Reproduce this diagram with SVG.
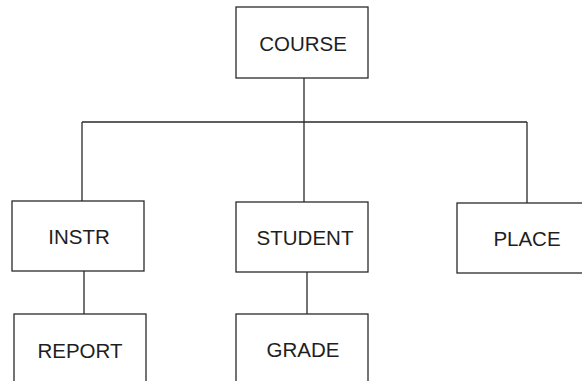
<svg xmlns="http://www.w3.org/2000/svg" width="582" height="381" viewBox="0 0 582 381">
<style>
.box{fill:#fff;stroke:#2a2a2a;stroke-width:1.3}
.lbl{font-family:"Liberation Sans",Arial,sans-serif;font-size:20.5px;fill:#1e1e1e;text-anchor:middle}
.con{stroke:#2a2a2a;stroke-width:1.3;fill:none}
</style>
<rect width="582" height="381" fill="#fff"/>
<g id="connectors">
<path class="con" d="M304 78V122M82 122H527M82 122V201M304 122V202M527 122V203M84 271V314M307 272V314"/>
</g>
<g id="course"><rect class="box" x="236" y="7" width="132" height="71"/><text class="lbl" x="303" y="51">COURSE</text></g>
<g id="instr"><rect class="box" x="12" y="201" width="132" height="70"/><text class="lbl" x="79" y="244">INSTR</text></g>
<g id="student"><rect class="box" x="236" y="202" width="132" height="70"/><text class="lbl" x="305" y="245">STUDENT</text></g>
<g id="place"><rect class="box" x="457" y="203" width="135" height="70"/><text class="lbl" x="527" y="246">PLACE</text></g>
<g id="report"><rect class="box" x="14" y="314" width="132" height="80"/><text class="lbl" x="80" y="358">REPORT</text></g>
<g id="grade"><rect class="box" x="236" y="314" width="132" height="80"/><text class="lbl" x="303" y="357">GRADE</text></g>
</svg>
